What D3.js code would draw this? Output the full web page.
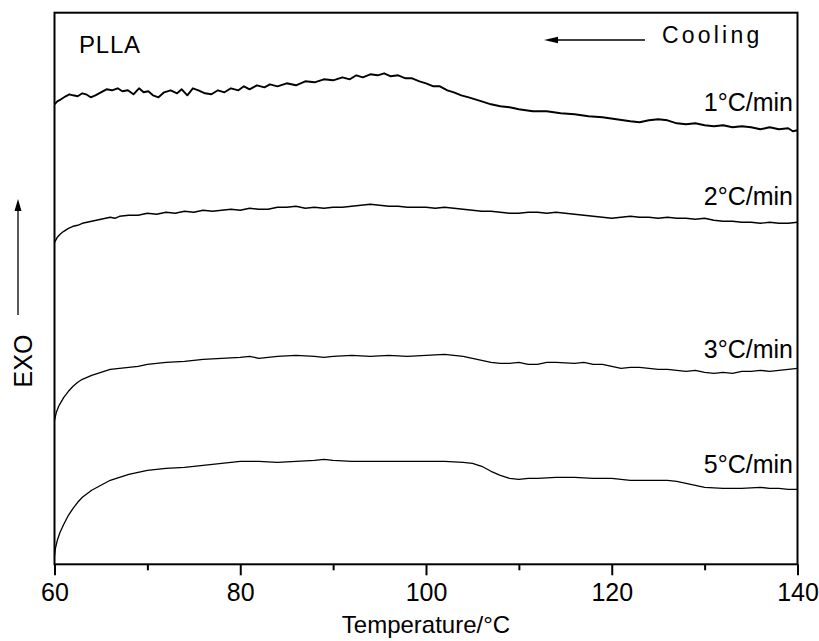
<!DOCTYPE html>
<html>
<head>
<meta charset="utf-8">
<script src="https://cdn.jsdelivr.net/npm/d3@7"></script>
<style>
  html, body { margin: 0; padding: 0; background: #fff; }
  svg { display: block; }
  text { font-family: "Liberation Sans", Arial, sans-serif; fill: #000; }
</style>
</head>
<body>
<svg id="chart" width="819" height="641"></svg>
<script>
// ---- data (temperature in °C, heat flow in arbitrary units, curves offset vertically) ----
const xTicksMajor = [60, 80, 100, 120, 140];
const xTicksMinor = [70, 90, 110, 130];
const seriesLabels = ["1\u00B0C/min", "2\u00B0C/min", "3\u00B0C/min", "5\u00B0C/min"];

const rate1 = [
  [60,46.0],[60.3,46.3],[60.7,46.5],[61.2,46.8],[61.6,47.0],[62,46.9],[62.5,46.8],[63,47.1],
  [63.4,47.0],[63.9,46.7],[64.4,46.9],[65,47.2],[65.6,47.5],[66.2,47.4],[66.8,47.6],[67.3,47.3],
  [67.9,47.4],[68.5,47.0],[69.1,47.6],[69.6,47.2],[70.1,47.3],[70.6,46.9],[71.2,46.7],[71.8,47.2],
  [72.5,47.4],[73.2,47.1],[73.7,47.5],[74.3,46.9],[74.9,47.6],[75.5,47.4],[76.2,47.1],[76.9,47.0],
  [77.6,47.4],[78.3,47.2],[79,47.6],[79.8,47.4],[80.4,47.8],[81,47.5],[81.8,47.9],[82.6,47.7],
  [83.2,48.0],[84,47.8],[85,48.1],[86,47.9],[87,48.3],[88,48.2],[89,48.5],[90,48.4],
  [91,48.7],[91.8,48.5],[92.5,48.9],[93.2,48.7],[94,49.0],[94.8,48.9],[95.5,49.1],[96.2,48.8],
  [97,48.9],[97.8,48.6],[98.5,48.6],[99.3,48.3],[100,48.1],[100.8,47.8],[101.5,47.8],[102.3,47.4],
  [103,47.2],[103.8,46.9],[104.6,46.7],[105.3,46.5],[106,46.3],[107,46.0],[108,45.8],[109,45.7],
  [110,45.5],[111.5,45.3],[113,45.3],[114.5,45.1],[116,45.0],[117.5,44.8],[119,44.7],[120.5,44.5],
  [122,44.3],[123,44.2],[124,44.4],[125,44.5],[126,44.4],[127,44.1],[128,44.0],[129,44.1],
  [130,43.9],[131,43.8],[132,43.9],[133,43.7],[134,43.8],[135,43.7],[136,43.5],[137,43.7],
  [138,43.5],[139,43.6],[139.5,43.3],[140,43.4]
];

const rate2 = [
  [60,32.2],[60.3,32.7],[60.6,33.0],[61,33.3],[61.5,33.6],[62,33.8],[62.5,33.9],[63,34.1],
  [63.5,34.2],[64,34.3],[65,34.5],[66,34.7],[66.5,34.6],[67,34.8],[68,34.9],[69,34.9],
  [70,35.1],[71,35.0],[72,35.2],[73,35.1],[74,35.3],[75,35.2],[76,35.4],[77,35.3],
  [78,35.4],[79,35.5],[80,35.4],[81,35.6],[82,35.5],[83,35.5],[84,35.7],[85,35.7],
  [86,35.8],[87,35.6],[88,35.7],[89,35.6],[90,35.7],[91,35.7],[92,35.8],[93,35.9],
  [94,36.0],[95,35.9],[96,35.8],[97,35.8],[98,35.7],[99,35.7],[100,35.7],[101,35.6],
  [102,35.7],[103,35.6],[104,35.5],[105,35.4],[106,35.3],[107,35.3],[108,35.2],[109,35.1],
  [110,35.1],[111,35.2],[112,35.2],[113,35.1],[114,35.2],[115,35.1],[116,35.0],[117,34.9],
  [118,34.8],[119,34.7],[120,34.6],[121,34.7],[122,34.8],[123,34.7],[124,34.7],[125,34.6],
  [126,34.7],[127,34.6],[128,34.6],[129,34.5],[130,34.6],[131,34.4],[132,34.3],[133,34.3],
  [134,34.2],[135,34.2],[136,34.1],[137,34.2],[138,34.1],[139,34.1],[140,34.2]
];

const rate3 = [
  [60,14.4],[60.2,15.2],[60.5,15.9],[61,16.7],[61.5,17.3],[62,17.8],[62.5,18.2],[63,18.5],
  [64,18.9],[65,19.2],[66,19.5],[67,19.6],[68,19.7],[69,19.8],[70,20.0],[72,20.2],
  [74,20.3],[76,20.5],[78,20.6],[80,20.7],[81,20.8],[82,20.6],[83,20.7],[84,20.8],
  [86,20.9],[88,20.8],[89,20.7],[90,20.8],[92,20.9],[94,20.8],[96,20.9],[98,20.8],
  [100,20.9],[102,21.0],[103,20.9],[104,20.8],[105,20.6],[106,20.4],[107,20.2],[108,20.1],
  [109,20.1],[110,20.2],[111,20.0],[112,20.0],[113,20.2],[114,20.2],[116,20.1],[117,20.2],
  [118,20.0],[119,20.0],[120,19.8],[121,19.6],[122,19.7],[123,19.7],[124,19.6],[125,19.5],
  [126,19.5],[127,19.4],[128,19.3],[129,19.4],[130,19.2],[131,19.1],[132,19.2],[133,19.1],
  [134,19.3],[135,19.3],[136,19.4],[137,19.3],[138,19.4],[139,19.5],[140,19.6]
];

const rate5 = [
  [60,0.8],[60.1,1.6],[60.3,2.4],[60.6,3.2],[61,4.0],[61.5,4.9],[62,5.6],[62.5,6.2],
  [63,6.7],[64,7.4],[65,7.9],[66,8.4],[67,8.7],[68,9.0],[69,9.2],[70,9.4],
  [72,9.6],[74,9.7],[76,9.9],[78,10.1],[80,10.3],[82,10.3],[84,10.2],[86,10.3],
  [88,10.4],[89,10.5],[90,10.4],[92,10.3],[94,10.3],[96,10.3],[98,10.3],[100,10.3],
  [102,10.3],[104,10.2],[105,10.1],[106,9.8],[107,9.3],[108,8.9],[109,8.6],[110,8.5],
  [111,8.6],[112,8.6],[114,8.7],[116,8.7],[118,8.6],[119,8.6],[120,8.6],[121,8.5],
  [122,8.4],[123,8.4],[124,8.4],[125,8.4],[126,8.4],[127,8.3],[128,8.1],[129,7.9],
  [130,7.7],[132,7.6],[134,7.6],[136,7.7],[137,7.6],[138,7.6],[139,7.5],[140,7.5]
];

const labelValues = [45.3, 35.9, 20.6, 9.1]; // label baseline heights (a.u.)

// ---- layout ----
const svg = d3.select("#chart");
const m = { left: 54.5, right: 797.5, top: 12.7, bottom: 564.3 };
const x = d3.scaleLinear().domain([60, 140]).range([m.left, m.right]);
const y = d3.scaleLinear().domain([0, 55.16]).range([m.bottom, m.top]);

const line = d3.line().x(d => x(d[0])).y(d => y(d[1]));

const allSeries = [rate1, rate2, rate3, rate5];
const widths = [1.9, 1.4, 1.3, 1.3];

svg.append("g").selectAll("path").data(allSeries).join("path")
  .attr("d", line)
  .attr("fill", "none")
  .attr("stroke", "#000")
  .attr("stroke-width", (d, i) => widths[i])
  .attr("stroke-linejoin", "round");

// frame
svg.append("rect")
  .attr("x", m.left).attr("y", m.top)
  .attr("width", m.right - m.left).attr("height", m.bottom - m.top)
  .attr("fill", "none").attr("stroke", "#000").attr("stroke-width", 2);

// bottom axis: major ticks
const axMajor = svg.append("g").attr("transform", `translate(0,${m.bottom})`)
  .call(d3.axisBottom(x).tickValues(xTicksMajor).tickSize(11).tickPadding(8).tickFormat(d3.format("d")));
axMajor.select(".domain").remove();
axMajor.selectAll(".tick line").attr("stroke", "#000").attr("stroke-width", 2);
axMajor.selectAll(".tick text").attr("font-size", 25).attr("font-family", "'Liberation Sans', Arial, sans-serif").attr("fill", "#000");

const axMinor = svg.append("g").attr("transform", `translate(0,${m.bottom})`)
  .call(d3.axisBottom(x).tickValues(xTicksMinor).tickSize(6).tickFormat(""));
axMinor.select(".domain").remove();
axMinor.selectAll(".tick line").attr("stroke", "#000").attr("stroke-width", 2);

// x title
svg.append("text")
  .attr("x", (m.left + m.right) / 2).attr("y", 633)
  .attr("text-anchor", "middle").attr("font-size", 24)
  .text("Temperature/\u00B0C");

// y label EXO with arrow
svg.append("text")
  .attr("transform", "translate(32,361) rotate(-90)")
  .attr("text-anchor", "middle").attr("font-size", 25)
  .text("EXO");
svg.append("line").attr("x1", 18).attr("x2", 18).attr("y1", 315).attr("y2", 208)
  .attr("stroke", "#000").attr("stroke-width", 1.3);
svg.append("path").attr("d", "M18,199 L14.5,211 L21.5,211 Z").attr("fill", "#000");

// PLLA
svg.append("text").attr("x", 79).attr("y", 53).attr("font-size", 24)
  .attr("letter-spacing", 0.8).text("PLLA");

// Cooling arrow
svg.append("line").attr("x1", 552).attr("x2", 645).attr("y1", 40).attr("y2", 40)
  .attr("stroke", "#000").attr("stroke-width", 1.3);
svg.append("path").attr("d", "M544,40 L558,36.8 L558,43.2 Z").attr("fill", "#000");
svg.append("text").attr("x", 662).attr("y", 43).attr("font-size", 23)
  .attr("letter-spacing", 3.2).text("Cooling");

// series labels
svg.append("g").selectAll("text").data(seriesLabels).join("text")
  .attr("x", 793)
  .attr("y", (d, i) => y(labelValues[i]))
  .attr("text-anchor", "end")
  .attr("font-size", 25)
  .text(d => d);
</script>
</body>
</html>
